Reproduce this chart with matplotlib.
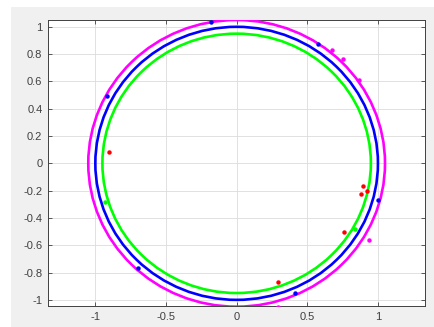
import matplotlib
matplotlib.use("Agg")
import matplotlib.pyplot as plt
from matplotlib.patches import Circle, Rectangle

# circle radii and colours
radii = [1.05, 1.0, 0.95]
circle_colors = ["#ff00ff", "#0000ff", "#00ff00"]

# scatter points
blue_x = [-0.179, -0.916, 0.578, -0.696, 1.003, 0.413]
blue_y = [1.034, 0.492, 0.873, -0.764, -0.271, -0.947]
red_x = [-0.902, 0.897, 0.921, 0.883, 0.758, 0.290]
red_y = [0.085, -0.164, -0.203, -0.225, -0.503, -0.871]
mag_x = [0.678, 0.753, 0.866, 0.937, 0.290]
mag_y = [0.829, 0.765, 0.609, -0.559, -1.049]
green_x = [-0.933, 0.838]
green_y = [-0.283, -0.483]

xticks = [-1, -0.5, 0, 0.5, 1]
xticklabels = ["-1", "-0.5", "0", "0.5", "1"]
yticks = [-1, -0.8, -0.6, -0.4, -0.2, 0, 0.2, 0.4, 0.6, 0.8, 1]
yticklabels = ["-1", "-0.8", "-0.6", "-0.4", "-0.2", "0", "0.2", "0.4", "0.6", "0.8", "1"]

plt.rcParams['font.family'] = ['Liberation Sans', 'DejaVu Sans']

fig = plt.figure(figsize=(4.35, 3.27), dpi=100, facecolor="white")
fig.patches.append(Rectangle((11/435, 0), 1, 1 - 7/327, transform=fig.transFigure,
                             facecolor="#f0f0f0", edgecolor="none", zorder=-10))
ax = fig.add_axes([48/435, 1 - 306/327, (425 - 48)/435, (306 - 20)/327])
ax.set_facecolor("white")

for r, c in zip(radii, circle_colors):
    ax.add_patch(Circle((0, 0), r, fill=False, edgecolor=c, linewidth=1.9, zorder=3))

ms = 3.2
ax.plot(blue_x, blue_y, "o", color="#0000ff", ms=ms, mec="none", zorder=4)
ax.plot(red_x, red_y, "o", color="#ff0000", ms=ms, mec="none", zorder=4)
ax.plot(mag_x, mag_y, "o", color="#ff00ff", ms=ms, mec="none", zorder=4)
ax.plot(green_x, green_y, "o", color="#00ff00", ms=ms, mec="none", zorder=4)

ax.set_xlim(-1.335, 1.333)
ax.set_ylim(-1.045, 1.05)
ax.set_xticks(xticks)
ax.set_xticklabels(xticklabels)
ax.set_yticks(yticks)
ax.set_yticklabels(yticklabels)
ax.grid(True, color="#dcdcdc", linewidth=0.6)
ax.set_axisbelow(True)
ax.tick_params(direction="in", top=True, right=True, length=3, width=0.6,
               labelsize=8, colors="#404040", pad=4)
for s in ax.spines.values():
    s.set_color("#404040")
    s.set_linewidth(0.7)

fig.savefig("out.png", dpi=100, facecolor=fig.get_facecolor())
